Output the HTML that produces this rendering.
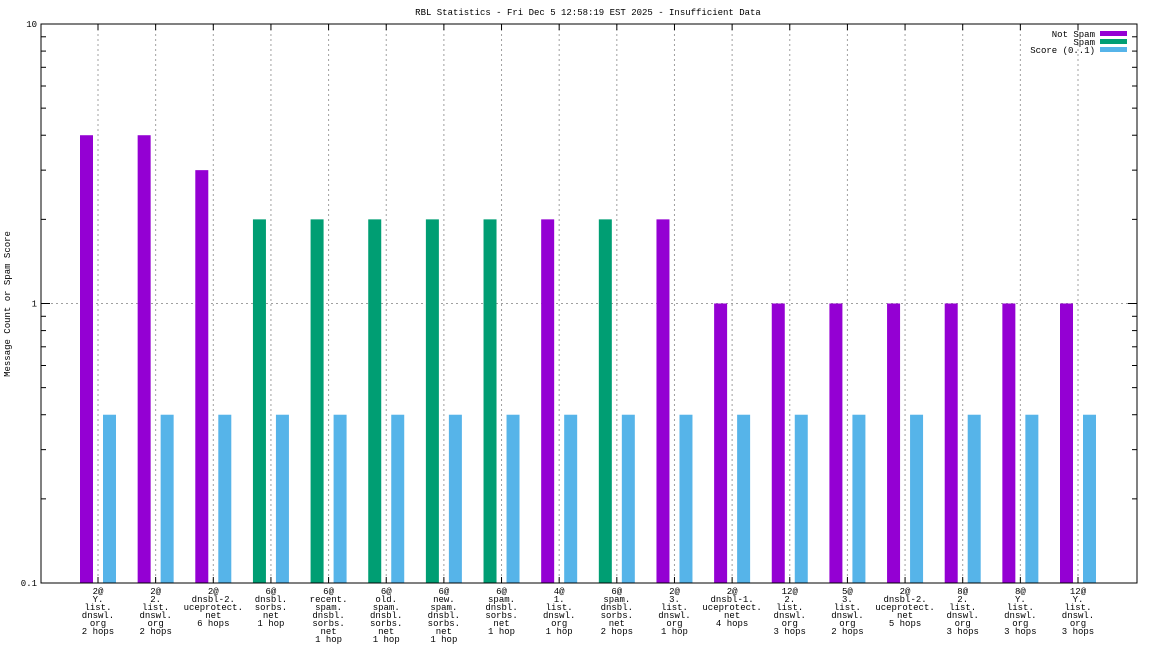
<!DOCTYPE html>
<html><head><meta charset="utf-8"><style>
body{margin:0;background:#fff}
svg{display:block;font-family:"Liberation Mono","DejaVu Sans Mono",monospace;font-size:9px}
</style></head><body>
<svg id="c" width="1152" height="648" xmlns="http://www.w3.org/2000/svg">
<text x="588" y="15" text-anchor="middle">RBL Statistics - Fri Dec  5 12:58:19 EST 2025 - Insufficient Data</text>
<text transform="translate(10,304) rotate(-90)" text-anchor="middle">Message Count or Spam Score</text>
</svg>
<script>
const categories=[
["2@","Y.","list.","dnswl.","org","2 hops"],["2@","2.","list.","dnswl.","org","2 hops"],["2@","dnsbl-2.","uceprotect.","net","6 hops"],["6@","dnsbl.","sorbs.","net","1 hop"],["6@","recent.","spam.","dnsbl.","sorbs.","net","1 hop"],["6@","old.","spam.","dnsbl.","sorbs.","net","1 hop"],["6@","new.","spam.","dnsbl.","sorbs.","net","1 hop"],["6@","spam.","dnsbl.","sorbs.","net","1 hop"],["4@","1.","list.","dnswl.","org","1 hop"],["6@","spam.","dnsbl.","sorbs.","net","2 hops"],["2@","3.","list.","dnswl.","org","1 hop"],["2@","dnsbl-1.","uceprotect.","net","4 hops"],["12@","2.","list.","dnswl.","org","3 hops"],["5@","3.","list.","dnswl.","org","2 hops"],["2@","dnsbl-2.","uceprotect.","net","5 hops"],["8@","2.","list.","dnswl.","org","3 hops"],["8@","Y.","list.","dnswl.","org","3 hops"],["12@","Y.","list.","dnswl.","org","3 hops"]];
const notSpam=[4,4,3,0,0,0,0,0,2,0,2,1,1,1,1,1,1,1];
const spam=[0,0,0,2,2,2,2,2,0,2,0,0,0,0,0,0,0,0];
const score=[0.4,0.4,0.4,0.4,0.4,0.4,0.4,0.4,0.4,0.4,0.4,0.4,0.4,0.4,0.4,0.4,0.4,0.4];
const yTicks=[0.1,1,10];
const yTickLabels=["0.1","1","10"];

const svg=document.getElementById('c');const NS="http://www.w3.org/2000/svg";
const L=41,R=1137,T=24,B=583;
const y=v=>B-(Math.log10(v)-Math.log10(0.1))/2*(B-T);
const step=(1078-98)/17;
const x=i=>98+i*step;
function mk(tag,a,txt){const e=document.createElementNS(NS,tag);for(const k in a)e.setAttribute(k,a[k]);if(txt!==undefined)e.textContent=txt;svg.appendChild(e);return e;}
// gridlines
for(let i=0;i<categories.length;i++){
 const g=mk('line',{x1:x(i),x2:x(i),y1:T,y2:B,stroke:'#a0a0a0','stroke-dasharray':'2,3'});
 
 
}
const hg=mk('line',{x1:L,x2:R,y1:y(1),y2:y(1),stroke:'#a0a0a0','stroke-dasharray':'2,3'});


// bars
for(let i=0;i<categories.length;i++){
 if(notSpam[i]>0){const r=mk('rect',{x:x(i)-18,y:y(notSpam[i]),width:13,height:B-y(notSpam[i]),fill:'#9400d3'});
  
  }
 if(spam[i]>0){const r=mk('rect',{x:x(i)-18,y:y(spam[i]),width:13,height:B-y(spam[i]),fill:'#009e73'});
  
  }
 if(score[i]>0){const r=mk('rect',{x:x(i)+5,y:y(score[i]),width:13,height:B-y(score[i]),fill:'#56b4e9'});
  
  }
 const t=mk('text',{x:x(i),y:B+11,'text-anchor':'middle'});
 
 
 categories[i].forEach((s,k)=>{const ts=document.createElementNS(NS,'tspan');ts.setAttribute('x',x(i));ts.setAttribute('dy',k?8:0);ts.textContent=s;t.appendChild(ts);});
 mk('line',{x1:x(i),x2:x(i),y1:B,y2:B-6,stroke:'#000'});
 mk('line',{x1:x(i),x2:x(i),y1:T,y2:T+6,stroke:'#000'});
}
// y ticks
yTicks.forEach((v,k)=>{
 mk('line',{x1:L,x2:L+9,y1:y(v),y2:y(v),stroke:'#000'});
 mk('line',{x1:R,x2:R-9,y1:y(v),y2:y(v),stroke:'#000'});
 const t=mk('text',{x:L-4,y:y(v)+3,'text-anchor':'end'},yTickLabels[k]);
 
 
 if(k<yTicks.length-1)for(let m=2;m<10;m++){const vv=v*m;
  mk('line',{x1:L,x2:L+5,y1:y(vv),y2:y(vv),stroke:'#000'});
  mk('line',{x1:R,x2:R-5,y1:y(vv),y2:y(vv),stroke:'#000'});}
});
const fr=mk('rect',{x:L,y:T,width:R-L,height:B-T,fill:'none',stroke:'#000'});


// legend
[["Not Spam",'#9400d3'],["Spam",'#009e73'],["Score (0..1)",'#56b4e9']].forEach((e,k)=>{
 const t=mk('text',{x:1095,y:37+k*8,'text-anchor':'end'},e[0]);
 
 
 const r=mk('rect',{x:1100,y:31+k*8,width:27,height:5,fill:e[1]});
 
 
});
</script>
</body></html>
